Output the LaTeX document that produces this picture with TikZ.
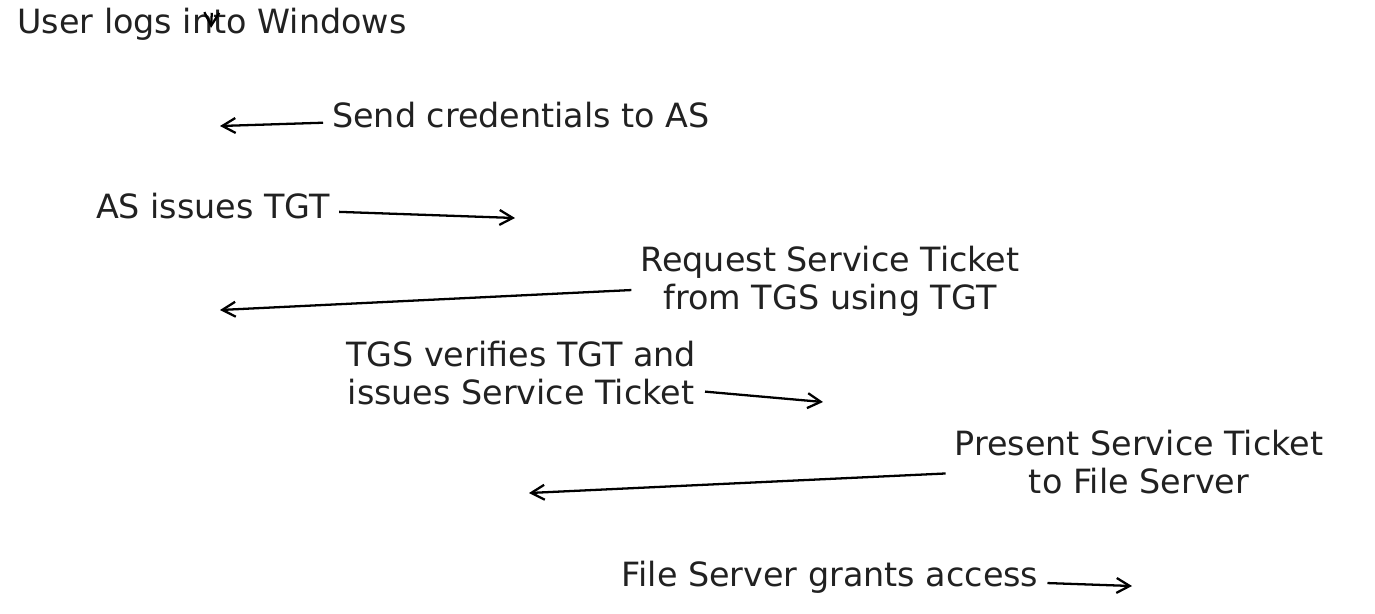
\documentclass[tikz,border=0pt]{standalone}
\usepackage{fontspec}
\setmainfont{DejaVu Sans}
\usetikzlibrary{arrows.meta}

\begin{document}
\begin{tikzpicture}[
    x=0.02cm, y=-0.02cm,
    lbl/.style={font=\fontsize{19}{21.6}\selectfont, text=black!87, align=center, inner sep=5pt, text height=15pt, text depth=3pt},
    lbltwo/.style={lbl, text height=36pt, text depth=3.5pt},
    arrow/.style={-{Straight Barb[length=7.5pt,width=8.5pt]}, line width=1.3pt, black}
]
    \useasboundingbox (0,0) rectangle (1375,613);

    \node[lbl, anchor=base, text height=30pt] (login) at (212,33) {User logs into Windows};
    \node[lbl, anchor=base] (send) at (521,127) {Send credentials to AS};
    \node[lbl, anchor=base] (tgt) at (213,218) {AS issues TGT};
    \node[lbltwo, anchor=base] (request) at (830,309) {Request Service Ticket\\from TGS using TGT};
    \node[lbltwo, anchor=base] (verify) at (521,404) {TGS verifies TGT and\\issues Service Ticket};
    \node[lbltwo, anchor=base] (present) at (1139,493) {Present Service Ticket\\to File Server};
    \node[lbl, anchor=base] (grant) at (830,586) {File Server grants access};

    % arrow targets
    \coordinate (p0) at (211,28);
    \coordinate (p1) at (220,126);
    \coordinate (p2) at (515,218);
    \coordinate (p3) at (220,310);
    \coordinate (p4) at (823,402);
    \coordinate (p5) at (529,493);
    \coordinate (p6) at (1132,586);

    \draw[arrow, shorten <=2pt] (login.center) -- (p0);
    \draw[arrow] (send) -- (p1);
    \draw[arrow] (tgt) -- (p2);
    \draw[arrow] (request) -- (p3);
    \draw[arrow] (verify) -- (p4);
    \draw[arrow] (present) -- (p5);
    \draw[arrow] (grant) -- (p6);
\end{tikzpicture}
\end{document}
